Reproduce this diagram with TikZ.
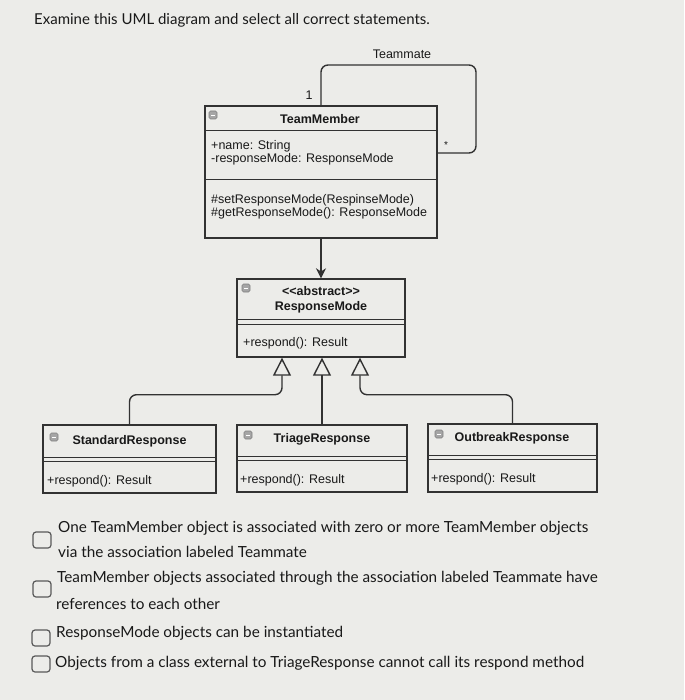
\documentclass[tikz,border=0pt]{standalone}
\usepackage{fontspec}
\setmainfont{Lato}
\newfontfamily\umlfont{Liberation Sans}
\usetikzlibrary{positioning, arrows.meta}

\definecolor{bgcol}{RGB}{236,236,233}
\definecolor{linecol}{RGB}{50,50,50}
\definecolor{inkcol}{RGB}{25,25,25}
\definecolor{iconcol}{RGB}{165,165,165}

\tikzset{
  classbox/.style={draw=linecol, line width=1.4pt, inner sep=0pt},
  sepline/.style={draw=linecol, line width=1.4pt},
  header/.style={font=\umlfont\bfseries\fontsize{12.5}{15}\selectfont, text=inkcol, inner sep=0pt, align=center},
  member/.style={font=\umlfont\fontsize{12.5}{14}\selectfont, text=inkcol, inner sep=0pt, anchor=west},
  minusicon/.style={draw=gray, fill=iconcol, rounded corners=1.5pt, minimum width=8pt, minimum height=8pt, inner sep=0pt, line width=0.6pt},
  link/.style={draw=linecol, line width=1.4pt, rounded corners=7pt},
  inherit/.style={link, -{Triangle[open, length=18pt, width=18pt, line width=1.4pt]}},
  checkbox/.style={draw=gray!70!black, line width=1.2pt, rounded corners=3pt, minimum width=18pt, minimum height=16pt, inner sep=0pt},
  stmt/.style={font=\fontsize{15.3}{18}\selectfont, text=inkcol, inner sep=0pt, anchor=west},
}

\begin{document}
\begin{tikzpicture}[x=1pt, y=-1pt]
    % Background and page size
    \fill[bgcol] (0,0) rectangle (684,700);
    \useasboundingbox (0,0) rectangle (684,700);

    % Question
    \node[stmt, font=\fontsize{15}{18}\selectfont] (title) at (34,20) {Examine this UML diagram and select all correct statements.};

    % Class boxes
    \node[classbox, minimum width=232pt, minimum height=132pt] (tm) at (321,172) {};
    \node[classbox, minimum width=168pt, minimum height=78pt] (rm) at (321,318) {};
    \node[classbox, minimum width=173pt, minimum height=68pt] (sr) at (129.5,459) {};
    \node[classbox, minimum width=170pt, minimum height=67pt] (tr) at (322,458.5) {};
    \node[classbox, minimum width=169pt, minimum height=68pt] (or) at (512.5,458) {};

    % Compartment lines
    \foreach \c/\d in {tm/25, tm/74, rm/41, rm/46, sr/33, sr/37, tr/32, tr/36, or/32, or/36} {
      \draw[sepline] ([yshift=-\d pt]\c.north west) -- ([yshift=-\d pt]\c.north east);
    }

    % Collapse icons
    \foreach \n/\x/\y in {tmicon/213/115, rmicon/246/288, sricon/54/437, tricon/248/435, oricon/439/434} {
      \node[minusicon] (\n) at (\x,\y) {};
      \draw[white, line width=0.8pt] ([xshift=-2pt]\n.center) -- ([xshift=2pt]\n.center);
    }

    % TeamMember
    \node[header] (tmname) at (320,119) {TeamMember};
    \node[member] (tma1) at (211,146) {+name: String};
    \node[member] (tma2) at (211,159) {-responseMode: ResponseMode};
    \node[member] (tmo1) at (211,200) {\#setResponseMode(RespinseMode)};
    \node[member] (tmo2) at (211,213) {\#getResponseMode(): ResponseMode};

    % ResponseMode
    \node[header] (rmname) at (321,300) {<{}<abstract>{}>\\ResponseMode};
    \node[member] (rmo1) at (243,343) {+respond(): Result};

    % Subclasses
    \node[header] (srname) at (129.5,441) {StandardResponse};
    \node[header] (trname) at (322,439) {TriageResponse};
    \node[header] (orname) at (512,438) {OutbreakResponse};
    \foreach \n/\x/\y in {sro/47/481, tro/240/480, oro/431/479} {
      \node[member] (\n) at (\x,\y) {+respond(): Result};
    }

    % Self association
    \coordinate (loop) at (476,65);
    \draw[link] (tm.north) |- (loop) |- ([yshift=19pt]tm.east);
    \node[member, anchor=center] (teammate) at (402,54) {Teammate};
    \node[member, anchor=center] (one) at (309,95) {1};
    \node[member, anchor=center, font=\umlfont\fontsize{10}{12}\selectfont] (many) at (446,145) {*};

    % Dependency
    \draw[link, -{Stealth[length=10pt, width=10pt]}] (tm.south) -- (rm.north);

    % Generalisations
    \draw[inherit] (sr.north) |- ([xshift=-39pt, yshift=-37pt]rm.south) -- ([xshift=-39pt]rm.south);
    \draw[inherit] (tr.north) -- (tr.north |- rm.south);
    \draw[inherit] (or.north) |- ([xshift=39pt, yshift=-37pt]rm.south) -- ([xshift=39pt]rm.south);

    % Statements
    \foreach \n/\x/\y in {cb1/42/540, cb2/42/589, cb3/41/638, cb4/41/664} {
      \node[checkbox] (\n) at (\x,\y) {};
    }
    \node[stmt] (s1) at (58,528) {One TeamMember object is associated with zero or more TeamMember objects};
    \node[stmt] (s1b) at (58,552) {via the association labeled Teammate};
    \node[stmt] (s2) at (57,578) {TeamMember objects associated through the association labeled Teammate have};
    \node[stmt] (s2b) at (56,604) {references to each other};
    \node[stmt] (s3) at (56,633) {ResponseMode objects can be instantiated};
    \node[stmt] (s4) at (55,663) {Objects from a class external to TriageResponse cannot call its respond method};
\end{tikzpicture}
\end{document}
